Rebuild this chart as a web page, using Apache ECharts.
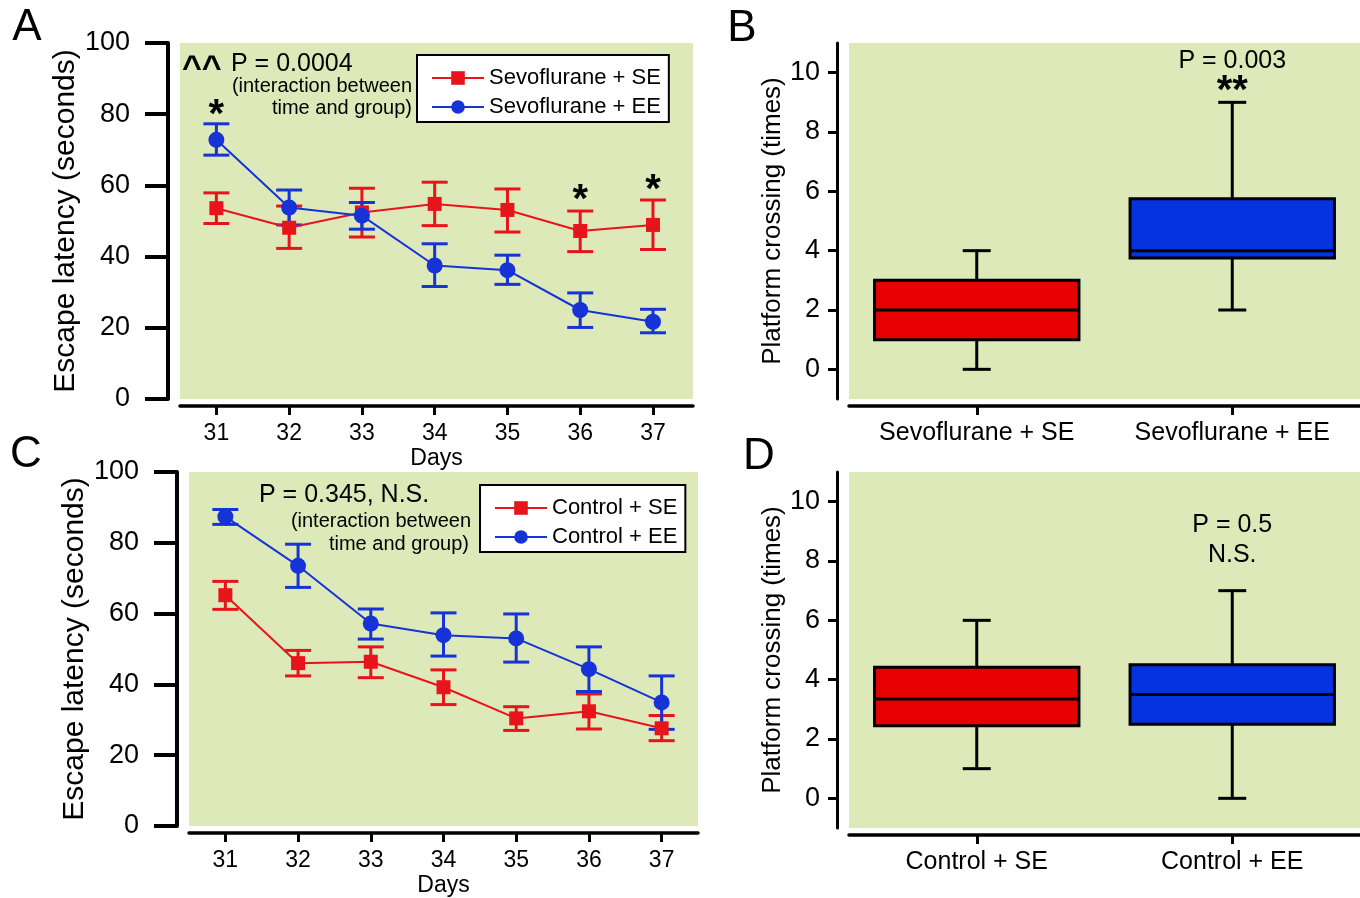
<!DOCTYPE html>
<html>
<head>
<meta charset="utf-8">
<script src="https://cdn.jsdelivr.net/npm/echarts@6/dist/echarts.min.js"></script>
<style>
html, body { margin: 0; padding: 0; background: #fff; }
#chart { width: 1360px; height: 898px; }
</style>
</head>
<body>
<div id="chart"></div>
<script>
var days = [31, 32, 33, 34, 35, 36, 37]
var latencyTicks = [0, 20, 40, 60, 80, 100]
var crossingTicks = [0, 2, 4, 6, 8, 10]

// A: sevoflurane groups (mean, lower and upper end of error bar)
var sevoSE = [53.6, 48.1, 52.4, 54.8, 53.1, 47.2, 48.9]
var sevoSELow = [49.3, 42.3, 45.5, 48.7, 46.9, 41.4, 42.0]
var sevoSEHigh = [57.9, 54.2, 59.2, 60.9, 59.0, 52.8, 55.9]
var sevoEE = [72.8, 53.8, 51.5, 37.5, 36.2, 25.0, 21.7]
var sevoEELow = [68.5, 48.9, 47.7, 31.6, 32.2, 20.1, 18.6]
var sevoEEHigh = [77.3, 58.7, 55.2, 43.6, 40.4, 29.8, 25.2]

// C: control groups
var ctrlSE = [65.2, 46.0, 46.4, 39.2, 30.4, 32.4, 27.6]
var ctrlSELow = [61.2, 42.4, 41.9, 34.3, 27.0, 27.4, 24.1]
var ctrlSEHigh = [69.1, 49.6, 50.6, 44.1, 33.7, 37.3, 31.2]
var ctrlEE = [87.4, 73.5, 57.2, 53.9, 53.0, 44.3, 34.9]
var ctrlEELow = [85.2, 67.4, 52.8, 48.0, 46.3, 38.0, 27.3]
var ctrlEEHigh = [89.4, 79.6, 61.3, 60.2, 59.9, 50.6, 42.4]

// B and D: boxes as [min, q1, median, q3, max]
var sevoGroups = ['Sevoflurane + SE', 'Sevoflurane + EE']
var sevoBoxes = [[0, 1, 2, 3, 4], [2, 3.75, 4, 5.75, 9]]
var ctrlGroups = ['Control + SE', 'Control + EE']
var ctrlBoxes = [[1, 2.45, 3.35, 4.42, 6], [0, 2.5, 3.5, 4.5, 7]]

// significance marks: [x, y] and their texts
var sevoStarPos = [[31, 79.5], [36, 55.5], [37, 58.5]]
var sevoStarText = ['*', '*', '*']
var boxNotePosB = [[1, 10.4], [1, 9.35]]
var boxNoteTextB = ['P = 0.003', '**']
var boxNotePosD = [[1, 9.2], [1, 8.2]]
var boxNoteTextD = ['P = 0.5', 'N.S.']

var FONT = "'Liberation Sans', Arial, sans-serif"
var RED = '#e8141b'
var BLUE = '#1533d6'
var GREEN = '#dde9b8'

function errData(low, high) {
  return days.map(function (d, i) { return [d, low[i], high[i]] })
}
function lineData(vals) {
  return days.map(function (d, i) { return [d, vals[i]] })
}

function renderErr(params, api) {
  var x = api.value(0)
  var lo = api.coord([x, api.value(1)])
  var hi = api.coord([x, api.value(2)])
  var w = 13
  var st = { stroke: api.visual('color'), lineWidth: 3 }
  return {
    type: 'group',
    children: [
      { type: 'line', shape: { x1: lo[0], y1: lo[1], x2: hi[0], y2: hi[1] }, style: st },
      { type: 'line', shape: { x1: lo[0] - w, y1: lo[1], x2: lo[0] + w, y2: lo[1] }, style: st },
      { type: 'line', shape: { x1: hi[0] - w, y1: hi[1], x2: hi[0] + w, y2: hi[1] }, style: st }
    ]
  }
}

function renderBox(params, api) {
  var c = api.value(0)
  var p = [1, 2, 3, 4, 5].map(function (k) { return api.coord([c, api.value(k)]) })
  var x = p[0][0]
  var half = api.size([1, 0])[0] * 0.4
  var cap = 14
  var ln = { stroke: '#000', lineWidth: 3 }
  return {
    type: 'group',
    children: [
      { type: 'line', shape: { x1: x, y1: p[0][1], x2: x, y2: p[1][1] }, style: ln },
      { type: 'line', shape: { x1: x, y1: p[3][1], x2: x, y2: p[4][1] }, style: ln },
      { type: 'line', shape: { x1: x - cap, y1: p[0][1], x2: x + cap, y2: p[0][1] }, style: ln },
      { type: 'line', shape: { x1: x - cap, y1: p[4][1], x2: x + cap, y2: p[4][1] }, style: ln },
      { type: 'rect', shape: { x: x - half, y: p[3][1], width: half * 2, height: p[1][1] - p[3][1] },
        style: { fill: api.visual('color'), stroke: '#000', lineWidth: 3 } },
      { type: 'line', shape: { x1: x - half, y1: p[2][1], x2: x + half, y2: p[2][1] }, style: ln }
    ]
  }
}

function noteSeries(idx, pos, texts, font) {
  return {
    type: 'custom', xAxisIndex: idx, yAxisIndex: idx, z: 5,
    data: pos,
    renderItem: function (params, api) {
      var pt = api.coord([api.value(0), api.value(1)])
      return {
        type: 'text', x: pt[0], y: pt[1],
        style: { text: texts[params.dataIndex], font: font, fill: '#000', align: 'center', verticalAlign: 'middle' }
      }
    }
  }
}

function boxSeries(idx, boxes) {
  var colors = ['#e60000', '#0533e0']
  return {
    type: 'custom', xAxisIndex: idx, yAxisIndex: idx,
    data: boxes.map(function (b, i) {
      return { value: [i].concat(b), itemStyle: { color: colors[i] } }
    }),
    renderItem: renderBox
  }
}

function latencyY(idx) {
  return {
    type: 'value', gridIndex: idx, min: 0, max: 100, interval: 20, offset: 12,
    name: 'Escape latency (seconds)', nameLocation: 'middle', nameGap: 86,
    nameTextStyle: { fontSize: 30, fontFamily: FONT, color: '#000' },
    axisLine: { show: true, onZero: false, lineStyle: { color: '#000', width: 4 } },
    axisTick: { show: true, length: 23, lineStyle: { color: '#000', width: 4 } },
    axisLabel: { fontSize: 27, fontFamily: FONT, color: '#000', margin: 38 },
    splitLine: { show: false }
  }
}
function dayX(idx, max) {
  return {
    type: 'value', gridIndex: idx, min: 30.5, max: max, offset: 7,
    name: 'Days', nameLocation: 'middle', nameGap: 41,
    nameTextStyle: { fontSize: 23, fontFamily: FONT, color: '#000' },
    axisLine: { onZero: false, lineStyle: { color: '#000', width: 3.5 } },
    axisTick: { show: true, length: 9, customValues: days, lineStyle: { color: '#000', width: 3 } },
    axisLabel: { fontSize: 23, fontFamily: FONT, color: '#000', margin: 16, customValues: days },
    splitLine: { show: false }
  }
}
function crossingY(idx) {
  return {
    type: 'value', gridIndex: idx, min: -1, max: 11, offset: 12,
    name: 'Platform crossing (times)', nameLocation: 'middle', nameGap: 49,
    nameTextStyle: { fontSize: 26, fontFamily: FONT, color: '#000' },
    axisLine: { show: true, onZero: false, lineStyle: { color: '#000', width: 3 } },
    axisTick: { show: true, length: 9, customValues: crossingTicks, lineStyle: { color: '#000', width: 3 } },
    axisLabel: { fontSize: 27, fontFamily: FONT, color: '#000', margin: 17, customValues: crossingTicks },
    splitLine: { show: false }
  }
}
function groupX(idx, groups) {
  return {
    type: 'category', gridIndex: idx, data: groups, offset: 7,
    axisLine: { onZero: false, lineStyle: { color: '#000', width: 3.5 } },
    axisTick: { show: true, length: 9, alignWithLabel: true, lineStyle: { color: '#000', width: 3 } },
    axisLabel: { fontSize: 25, fontFamily: FONT, color: '#000', margin: 15 },
    splitLine: { show: false }
  }
}

function lineSeries(idx, name, vals, color, symbol, size) {
  return {
    type: 'line', name: name, xAxisIndex: idx, yAxisIndex: idx,
    data: lineData(vals), symbol: symbol, symbolSize: size,
    itemStyle: { color: color }, lineStyle: { color: color, width: 2 }
  }
}
function errSeries(idx, low, high, color) {
  return {
    type: 'custom', xAxisIndex: idx, yAxisIndex: idx,
    itemStyle: { color: color },
    data: errData(low, high), renderItem: renderErr
  }
}

function legendAt(left, top, names) {
  return {
    data: names, orient: 'vertical', left: left, top: top,
    padding: [11, 8, 3, 14], itemGap: 5, itemWidth: 52, itemHeight: 17,
    borderColor: '#000', borderWidth: 2, backgroundColor: '#fff',
    textStyle: { fontSize: 22, fontFamily: FONT, color: '#000', lineHeight: 24 }
  }
}

function label(x, y, text, font, align) {
  return { type: 'text', x: x, y: y, style: { text: text, font: font, fill: '#000', align: align || 'left', verticalAlign: 'middle' } }
}

var chart = echarts.init(document.getElementById('chart'))
var gridStyle = { show: true, backgroundColor: GREEN, borderWidth: 0 }

chart.setOption({
  animation: false,
  backgroundColor: '#fff',
  grid: [
    Object.assign({ left: 180, top: 43, width: 513, height: 356 }, gridStyle),
    Object.assign({ left: 849, top: 43, width: 511, height: 356 }, gridStyle),
    Object.assign({ left: 189, top: 472, width: 509, height: 356 }, gridStyle),
    Object.assign({ left: 849, top: 472, width: 511, height: 356 }, gridStyle)
  ],
  xAxis: [dayX(0, 37.55), groupX(1, sevoGroups), dayX(2, 37.5), groupX(3, ctrlGroups)],
  yAxis: [latencyY(0), crossingY(1), latencyY(2), crossingY(3)],
  legend: [
    legendAt(417, 55, ['Sevoflurane + SE', 'Sevoflurane + EE']),
    legendAt(480, 485, ['Control + SE', 'Control + EE'])
  ],
  graphic: [
    label(27, 28, 'A', '44px ' + FONT, 'center'),
    label(742, 29, 'B', '44px ' + FONT, 'center'),
    label(26, 455, 'C', '44px ' + FONT, 'center'),
    label(759, 457, 'D', '44px ' + FONT, 'center'),
    label(182, 69, '^^', 'bold 34px ' + FONT),
    label(231, 64, 'P = 0.0004', '25px ' + FONT),
    label(412, 86, '(interaction between', '20px ' + FONT, 'right'),
    label(412, 108, 'time and group)', '20px ' + FONT, 'right'),
    label(259, 495, 'P = 0.345, N.S.', '25px ' + FONT),
    label(471, 521, '(interaction between', '20px ' + FONT, 'right'),
    label(469, 544, 'time and group)', '20px ' + FONT, 'right')
  ],
  series: [
    errSeries(0, sevoSELow, sevoSEHigh, RED),
    lineSeries(0, 'Sevoflurane + SE', sevoSE, RED, 'rect', 14),
    errSeries(0, sevoEELow, sevoEEHigh, BLUE),
    lineSeries(0, 'Sevoflurane + EE', sevoEE, BLUE, 'circle', 16),
    noteSeries(0, sevoStarPos, sevoStarText, 'bold 40px ' + FONT),

    boxSeries(1, sevoBoxes),
    noteSeries(1, boxNotePosB.slice(0, 1), boxNoteTextB.slice(0, 1), '25px ' + FONT),
    noteSeries(1, boxNotePosB.slice(1), boxNoteTextB.slice(1), 'bold 40px ' + FONT),

    errSeries(2, ctrlSELow, ctrlSEHigh, RED),
    lineSeries(2, 'Control + SE', ctrlSE, RED, 'rect', 14),
    errSeries(2, ctrlEELow, ctrlEEHigh, BLUE),
    lineSeries(2, 'Control + EE', ctrlEE, BLUE, 'circle', 16),

    boxSeries(3, ctrlBoxes),
    noteSeries(3, boxNotePosD, boxNoteTextD, '25px ' + FONT)
  ]
})
</script>
</body>
</html>
